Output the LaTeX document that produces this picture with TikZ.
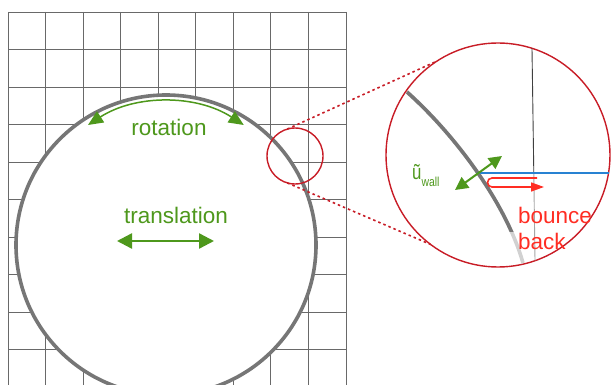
\documentclass[tikz,border=0pt]{standalone}
\usepackage{fontspec}
\setmainfont{Liberation Sans}
\usetikzlibrary{arrows.meta}
\definecolor{grn}{RGB}{78,152,28}
\definecolor{zoomred}{RGB}{200,28,38}
\definecolor{brightred}{RGB}{255,45,35}
\definecolor{bluel}{RGB}{40,130,210}
\definecolor{wallgray}{RGB}{118,118,118}
\definecolor{gridgray}{RGB}{105,105,105}
\tikzset{
  gridline/.style={draw=gridgray, line width=0.9pt},
  wallline/.style={draw=wallgray, line width=3.6pt},
  zoomcircle/.style={circle, draw=zoomred, line width=1.4pt, inner sep=0pt, outer sep=0pt},
  dotline/.style={draw=zoomred, line width=1.6pt, dash pattern=on 2.5pt off 3pt},
  grarrow/.style={draw=grn, line width=2.4pt, {Triangle[length=15pt,width=15pt]}-{Triangle[length=15pt,width=15pt]}},
  rotarrow/.style={draw=grn, line width=1.5pt, {Triangle[length=15pt,width=13pt]}-{Triangle[length=15pt,width=13pt]}},
  uarrow/.style={draw=grn, line width=2pt, {Triangle[length=13pt,width=13pt]}-{Triangle[length=13pt,width=13pt]}},
  redarrow/.style={draw=brightred, line width=1.6pt, -{Triangle[length=13pt,width=9pt]}},
  lbl/.style={text=grn, inner sep=0pt, font=\fontsize{22.5}{26}\selectfont},
}
\begin{document}
\begin{tikzpicture}[x=1pt,y=-1pt]
\useasboundingbox (0,0) rectangle (611,385);
\clip (0,0) rectangle (611,385);
\fill[white] (0,0) rectangle (611,385);
% grid
\foreach \i in {0,...,9} \draw[gridline] ({8+37.56*\i},12) -- ({8+37.56*\i},390);
\foreach \j in {0,...,10} \draw[gridline] (8,{12+37.5*\j}) -- (346,{12+37.5*\j});
% the body
\node[circle, inner sep=0pt, outer sep=0pt, minimum size=300pt, fill=white, wallline] (disk) at (166,245) {};
% rotation
\coordinate (rotL) at (88,125);
\draw[rotarrow] (rotL) arc[start angle=-123, end angle=-57, radius=143];
\node[lbl, anchor=base] (rot) at (169,136) {rotation};
% translation
\node[lbl, anchor=base] (trans) at (176,223) {translation};
\coordinate (trL) at (117,241);
\coordinate (trR) at (214,241);
\draw[grarrow] (trL) -- (trR);
% zoom circles
\node[zoomcircle, minimum size=56pt] (zsrc) at (295,156) {};
\node[zoomcircle, minimum size=224pt] (zdst) at (498,155) {};
\draw[dotline] (zsrc.106) -- (zdst.123.5);
\draw[dotline] (zsrc.254.6) -- (zdst.233.5);
% magnified grid line
\coordinate (gT) at (532,48.5);
\coordinate (gM) at (533.8,173);
\coordinate (gB) at (535,260.5);
\draw[black!75, line width=0.9pt] (gT) -- (gM);
\draw[black!35, line width=0.9pt] (gM) -- (gB);
% magnified wall
\coordinate (wA) at (407,92);
\coordinate (wM) at (477,173);
\coordinate (wB) at (523,263);
\draw[line width=3.6pt, black!18] (wA) .. controls (455,135) and (506,203) .. (wB);
\begin{scope}
\clip (380,40) rectangle (611,232);
\draw[line width=3.6pt, wallgray] (wA) .. controls (455,135) and (506,203) .. (wB);
\end{scope}
% blue link
\coordinate (bE) at (608.5,173);
\draw[bluel, line width=1.6pt] (wM) -- (bE);
% wall velocity
\coordinate (uA) at (455,190);
\coordinate (uB) at (502,156);
\draw[uarrow] (uA) -- (uB);
\node[anchor=base west, inner sep=0pt, text=grn, font=\fontsize{21}{21}\selectfont] (uw) at (412,179.5) {\scalebox{0.8}[1]{ũ}\raisebox{-7.5pt}{\fontsize{13}{13}\selectfont\scalebox{0.8}[1]{wall}}};
% bounce back
\coordinate (bbS) at (537,178);
\draw[redarrow] (bbS) -- (492,178) arc[start angle=-90, end angle=-270, radius=4.5] -- (544,187);
\node[anchor=north west, align=left, inner sep=0pt, text=brightred, font=\fontsize{22.5}{26}\selectfont] (bb) at (518,206.5) {bounce\\back};
\end{tikzpicture}
\end{document}
